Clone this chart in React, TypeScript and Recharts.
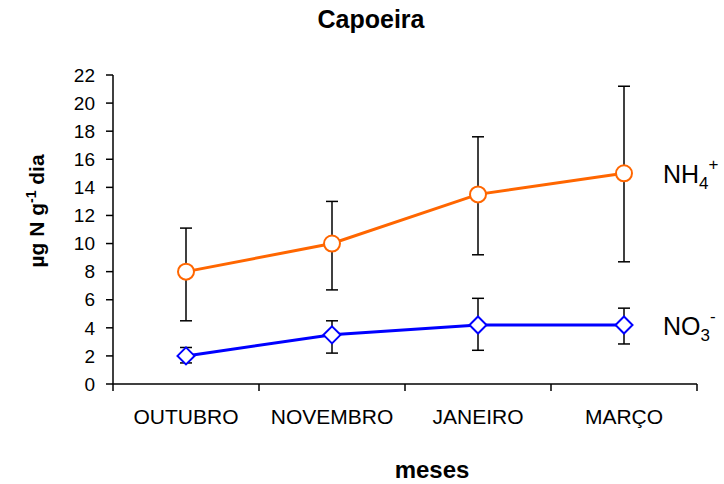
import React from 'react';
import { LineChart, Line, XAxis, YAxis, ErrorBar, ReferenceDot, Label } from 'recharts';

const months = ['OUTUBRO', 'NOVEMBRO', 'JANEIRO', 'MARÇO'];
const nh4 = [8.0, 10.0, 13.5, 15.0];
const nh4Upper = [11.1, 13.0, 17.6, 21.2];
const nh4Lower = [4.5, 6.7, 9.2, 8.7];
const no3 = [2.0, 3.5, 4.2, 4.2];
const no3Upper = [2.6, 4.5, 6.1, 5.4];
const no3Lower = [1.5, 2.2, 2.4, 2.85];
const yTicks = [0, 2, 4, 6, 8, 10, 12, 14, 16, 18, 20, 22];
const xTicks = [0, 0.5, 1, 1.5, 2, 2.5, 3, 3.5, 4];

const data = months.map((m, i) => ({
  month: m,
  pos: i + 0.5,
  nh4: nh4[i],
  nh4Err: [nh4[i] - nh4Lower[i], nh4Upper[i] - nh4[i]],
  no3: no3[i],
  no3Err: [no3[i] - no3Lower[i], no3Upper[i] - no3[i]],
}));

const FONT = '"Liberation Sans", Arial, sans-serif';

const Diamond = (props: any) => {
  const { cx, cy, index } = props;
  if (cx == null || cy == null) return null;
  const s = 8.5;
  return (
    <polygon
      key={`d-${index}`}
      points={`${cx},${cy - s} ${cx + s},${cy} ${cx},${cy + s} ${cx - s},${cy}`}
      fill="#ffffff"
      stroke="#0000FF"
      strokeWidth={2}
    />
  );
};

const BottomTick = (props: any) => {
  const { x, y, payload } = props;
  const v = payload.value;
  if (Number.isInteger(v)) {
    return <line x1={x} x2={x} y1={y} y2={y + 7} stroke="#000" strokeWidth={1.5} />;
  }
  const label = months[Math.floor(v)];
  return (
    <text x={x} y={y + 40} textAnchor="middle" fontFamily={FONT} fontSize={21} fill="#000">
      {label}
    </text>
  );
};

const YLabel = (props: any) => {
  const cx = 44;
  const cy = 211;
  return (
    <text
      x={cx}
      y={cy}
      transform={`rotate(-90 ${cx} ${cy})`}
      textAnchor="middle"
      fontFamily={FONT}
      fontSize={21}
      fontWeight="bold"
      fill="#000"
    >
      <tspan>µg N g</tspan>
      <tspan dy={-8} fontSize={14}>-1</tspan>
      <tspan dy={8}> dia</tspan>
    </text>
  );
};

const XLabel = (props: any) => {
  return (
    <text x={432} y={478} textAnchor="middle" fontFamily={FONT} fontSize={24} fontWeight="bold" fill="#000">
      meses
    </text>
  );
};

const SeriesLabel = (main: string, sub: string, sup: string, dy: number) => (props: any) => {
  const vb = props.viewBox || {};
  const x = (vb.x ?? 0) + 39;
  const y = (vb.y ?? 0) + dy;
  return (
    <text x={x} y={y} fontFamily={FONT} fontSize={25} fill="#000">
      <tspan>{main}</tspan>
      <tspan dy={6} fontSize={17}>{sub}</tspan>
      <tspan dy={-19} fontSize={17}>{sup}</tspan>
    </text>
  );
};

export default function App() {
  return (
    <div style={{ position: 'absolute', left: 0, top: 0, width: 724, height: 484, background: '#fff' }}>
      <div
        style={{
          position: 'absolute',
          left: 0,
          width: 742,
          top: 5,
          textAlign: 'center',
          fontFamily: FONT,
          fontWeight: 'bold',
          fontSize: 25,
          color: '#000',
        }}
      >
        Capoeira
      </div>
      <LineChart width={724} height={484} data={data} margin={{ top: 75, right: 27, left: 0, bottom: 0 }}>
        <XAxis
          type="number"
          dataKey="pos"
          domain={[0, 4]}
          ticks={xTicks}
          allowDataOverflow
          interval={0}
          height={100}
          tickSize={0}
          tickMargin={0}
          tickLine={false}
          tick={<BottomTick />}
          axisLine={{ stroke: '#000', strokeWidth: 1.5 }}
        >
          <Label content={<XLabel />} />
        </XAxis>
        <YAxis
          domain={[0, 22]}
          ticks={yTicks}
          width={113}
          tickSize={7}
          tickMargin={11}
          interval={0}
          tick={{ fontFamily: FONT, fontSize: 19, fill: '#000' }}
          axisLine={{ stroke: '#000', strokeWidth: 1.5 }}
          tickLine={{ stroke: '#000', strokeWidth: 1.5 }}
        >
          <Label content={<YLabel />} />
        </YAxis>
        <Line
          dataKey="nh4"
          stroke="#FF6600"
          strokeWidth={3}
          dot={{ r: 8, fill: '#ffffff', stroke: '#FF6600', strokeWidth: 2 }}
          isAnimationActive={false}
        >
          <ErrorBar dataKey="nh4Err" width={6} stroke="#000" strokeWidth={1.5} />
        </Line>
        <Line
          dataKey="no3"
          stroke="#0000FF"
          strokeWidth={3}
          dot={<Diamond />}
          isAnimationActive={false}
        >
          <ErrorBar dataKey="no3Err" width={6} stroke="#000" strokeWidth={1.5} />
        </Line>
        <ReferenceDot x={data[3].pos} y={nh4[3]} r={0} fill="none" stroke="none">
          <Label content={SeriesLabel('NH', '4', '+', 10)} />
        </ReferenceDot>
        <ReferenceDot x={data[3].pos} y={no3[3]} r={0} fill="none" stroke="none">
          <Label content={SeriesLabel('NO', '3', '-', 10)} />
        </ReferenceDot>
      </LineChart>
    </div>
  );
}
